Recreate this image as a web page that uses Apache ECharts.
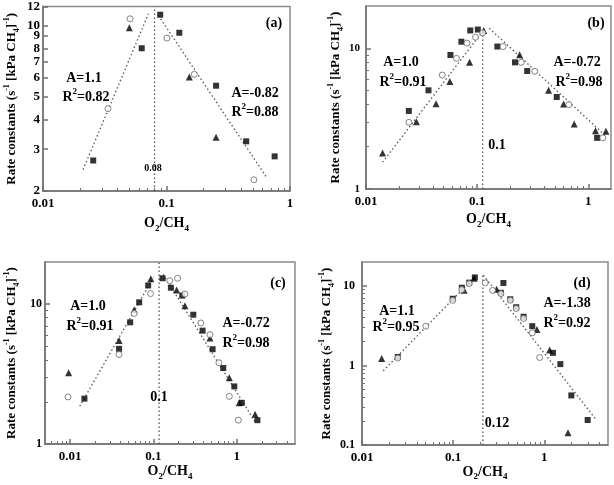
<!DOCTYPE html>
<html><head><meta charset="utf-8">
<script src="https://cdn.jsdelivr.net/npm/echarts@6/dist/echarts.min.js"></script>
<style>html,body{margin:0;padding:0;background:#fff}#c{width:614px;height:485px}</style>
</head><body><div id="c"></div>
<script>
// ---------- DATA (O2/CH4 ratio, rate constant) ----------
// Panel (a)
const aSquares   = [[0.0255,2.69],[0.063,8.0],[0.0889,11.08],[0.127,9.30],[0.252,5.56],[0.442,3.24],[0.751,2.80]];
const aTriangles = [[0.05,9.77],[0.153,6.05],[0.252,3.37]];
const aCircles   = [[0.0336,4.45],[0.0507,10.65],[0.1007,8.83],[0.168,6.21],[0.51,2.23]];
const aFitLeft   = [[0.0211,2.46],[0.0714,11.18]];
const aFitRight  = [[0.086,11.0],[0.655,2.26]];
const aPeak      = [[0.08,2],[0.08,12]];
// Panel (b)
const bSquares   = [[0.0243,3.59],[0.0365,5.03],[0.0575,8.97],[0.0721,11.15],[0.0867,13.4],[0.1014,13.6],[0.152,10.3],[0.219,7.95],[0.282,6.90],[0.52,4.51],[1.20,2.31]];
const bTriangles = [[0.0141,1.80],[0.0284,3.01],[0.0427,4.04],[0.0568,5.80],[0.0855,7.95],[0.1146,13.4],[0.241,9.02],[0.439,5.03],[0.600,4.02],[0.746,2.90],[1.16,2.60],[1.44,2.57]];
const bCircles   = [[0.0243,2.98],[0.0485,6.46],[0.0652,8.49],[0.081,10.9],[0.0966,12.0],[0.112,12.9],[0.171,10.3],[0.249,7.95],[0.330,6.87],[0.668,3.98],[1.35,2.31]];
const bFitLeft   = [[0.0141,1.55],[0.112,13.2]];
const bFitRight  = [[0.1285,13.9],[1.445,2.37]];
const bPeak      = [[0.112,1],[0.112,13.5]];
// Panel (c)
const cSquares   = [[0.01486,2.11],[0.0387,4.79],[0.0526,7.41],[0.0675,10.3],[0.0865,13.6],[0.1285,15.3],[0.162,13.1],[0.222,11.5],[0.301,8.40],[0.389,6.46],[0.513,4.76],[0.689,3.49],[0.935,2.58],[1.15,1.97],[1.77,1.48]];
const cTriangles = [[0.00961,3.23],[0.0387,5.49],[0.0587,9.12],[0.0931,15.2],[0.190,12.6],[0.239,9.73],[0.477,5.73],[0.814,2.98],[1.07,1.97],[1.66,1.63]];
const cCircles   = [[0.00944,2.17],[0.0387,4.36],[0.0587,8.58],[0.0923,11.9],[0.157,14.7],[0.195,15.3],[0.239,11.8],[0.371,7.33],[0.477,6.05],[0.611,3.81],[0.814,2.19],[1.045,1.48]];
const cFitLeft   = [[0.01305,1.86],[0.100,15.5]];
const cFitRight  = [[0.131,16.3],[1.66,1.44]];
const cPeak      = [[0.117,1],[0.117,20]];
// Panel (d)
const dSquares   = [[0.0247,1.28],[0.099,6.9],[0.1245,9.5],[0.150,11.0],[0.173,12.8],[0.356,10.9],[0.334,8.2],[0.423,6.8],[0.492,5.4],[0.593,4.1],[0.738,3.12],[1.245,1.44],[1.50,1.04],[1.98,0.42],[2.99,0.206]];
const dTriangles = [[0.01645,1.22],[0.132,8.8],[0.170,12.5],[0.30,9.1],[0.830,2.83],[1.145,1.56],[1.82,0.143]];
const dCircles   = [[0.0247,1.24],[0.0501,3.12],[0.099,6.6],[0.1245,9.0],[0.150,10.7],[0.225,10.9],[0.271,8.8],[0.334,8.0],[0.423,6.6],[0.492,5.2],[0.593,3.9],[0.738,2.57],[0.889,1.26]];
const dFitLeft   = [[0.0171,0.857],[0.1746,13.2]];
const dFitRight  = [[0.215,13.6],[3.73,0.206]];
const dPeak      = [[0.212,0.1],[0.212,13.5]];

// ---------- TICKS ----------
const aXMajor = [0.01,0.1,1];
const aXMinor = [0.02,0.03,0.04,0.05,0.06,0.07,0.08,0.09,0.2,0.3,0.4,0.5,0.6,0.7,0.8,0.9];
const aYMajor = [2,3,4,5,6,7,8,9,10,11,12];
const aYMinor = [];
const bXMajor = [0.01,0.1,1];
const bXMinor = [0.02,0.03,0.04,0.05,0.06,0.07,0.08,0.09,0.2,0.3,0.4,0.5,0.6,0.7,0.8,0.9];
const bYMajor = [1,10];
const bYMinor = [2,3,4,5,6,7,8,9];
const cXMajor = [0.01,0.1,1];
const cXMinor = [0.006,0.007,0.008,0.009,0.02,0.03,0.04,0.05,0.06,0.07,0.08,0.09,0.2,0.3,0.4,0.5,0.6,0.7,0.8,0.9,2,3,4];
const cYMajor = [1,10];
const cYMinor = [2,3,4,5,6,7,8,9];
const dXMajor = [0.01,0.1,1];
const dXMinor = [0.02,0.03,0.04,0.05,0.06,0.07,0.08,0.09,0.2,0.3,0.4,0.5,0.6,0.7,0.8,0.9,2,3,4];
const dYMajor = [0.1,1,10];
const dYMinor = [0.2,0.3,0.4,0.5,0.6,0.7,0.8,0.9,2,3,4,5,6,7,8,9];

// ---------- BUILD ----------
const L = Math.log10;
const FONT = '"Liberation Serif","Times New Roman",serif';
const AX = '#707070';
function lbl(list){ return v => { for (const t of list) if (Math.abs(L(t)-v) < 1e-6) return String(t); return ''; }; }
function rich(size){
  return {
    b:{fontFamily:FONT,fontWeight:'bold',fontSize:size,lineHeight:size+5,verticalAlign:'middle',color:'#000'},
    sup:{fontFamily:FONT,fontWeight:'bold',fontSize:Math.round(size*0.62),lineHeight:Math.round(size*0.62)+1,verticalAlign:'top',color:'#000'},
    sub:{fontFamily:FONT,fontWeight:'bold',fontSize:Math.round(size*0.62),lineHeight:Math.round(size*0.62)+1,verticalAlign:'bottom',color:'#000'}
  };
}
const X_NAME = '{b|O}{sub|2}{b|/CH}{sub|4}';
const Y_NAME = '{b|Rate constants (s}{sup|-1}{b| [kPa CH}{sub|4}{b|]}{sup|-1}{b|)}';

const panels = [
  {box:[43,6,247,185], xr:[0.01,1], yr:[2,12], xMaj:aXMajor, xMin:aXMinor, yMaj:aYMajor, yMin:aYMinor,
   sq:aSquares, tr:aTriangles, ci:aCircles, fits:[aFitLeft,aFitRight], peak:aPeak, xGap:23, yGap:22, yLblSize:13, yMargin:3},
  {box:[366,6,245,183], xr:[0.01,1.6], yr:[1,20], xMaj:bXMajor, xMin:bXMinor, yMaj:bYMajor, yMin:bYMinor,
   sq:bSquares, tr:bTriangles, ci:bCircles, fits:[bFitLeft,bFitRight], peak:bPeak, xGap:21, yGap:17, yLblSize:11, yMargin:6},
  {box:[45,262,250,182], xr:[0.005,5], yr:[1,20], xMaj:cXMajor, xMin:cXMinor, yMaj:cYMajor, yMin:cYMinor,
   sq:cSquares, tr:cTriangles, ci:cCircles, fits:[cFitLeft,cFitRight], peak:cPeak, xGap:18, yGap:24, yLblSize:12, yMargin:3},
  {box:[362,262,246,183], xr:[0.01,5], yr:[0.1,20], xMaj:dXMajor, xMin:dXMinor, yMaj:dYMajor, yMin:dYMinor,
   sq:dSquares, tr:dTriangles, ci:dCircles, fits:[dFitLeft,dFitRight], peak:dPeak, xGap:16, yGap:26, yLblSize:12, yMargin:7}
];

const option = {animation:false, backgroundColor:'#fff', grid:[], xAxis:[], yAxis:[], series:[], graphic:[]};
const toLog = arr => arr.map(([x,y]) => [L(x), L(y)]);

panels.forEach((p,k) => {
  option.grid.push({left:p.box[0], top:p.box[1], width:p.box[2], height:p.box[3], show:true, borderColor:'#8a8a8a', borderWidth:1.5, backgroundColor:'transparent'});
  const line = {show:true, onZero:false, lineStyle:{color:AX, width:1.5}};
  const noLine = {show:false, onZero:false};
  option.xAxis.push({type:'value', gridIndex:k, position:'bottom', min:L(p.xr[0]), max:L(p.xr[1]),
    axisLine:line, splitLine:{show:false},
    axisTick:{show:true, inside:true, length:5, customValues:p.xMaj.map(L), lineStyle:{color:AX, width:1.5}},
    axisLabel:{customValues:p.xMaj.map(L), formatter:lbl(p.xMaj), showMinLabel:true, showMaxLabel:true, hideOverlap:false,
      margin:6, color:'#000', fontFamily:FONT, fontWeight:'bold', fontSize:13},
    name:X_NAME, nameLocation:'middle', nameGap:p.xGap, nameTextStyle:{rich:rich(14)}});
  option.xAxis.push({type:'value', gridIndex:k, position:'bottom', min:L(p.xr[0]), max:L(p.xr[1]),
    axisLine:noLine, splitLine:{show:false}, axisLabel:{show:false},
    axisTick:{show:p.xMin.length>0, inside:true, length:3, customValues:p.xMin.map(L), lineStyle:{color:AX, width:1}}});
  option.yAxis.push({type:'value', gridIndex:k, position:'left', min:L(p.yr[0]), max:L(p.yr[1]),
    axisLine:line, splitLine:{show:false},
    axisTick:{show:true, inside:true, length:5, customValues:p.yMaj.map(L), lineStyle:{color:AX, width:1.5}},
    axisLabel:{customValues:p.yMaj.map(L), formatter:lbl(p.yMaj), showMinLabel:true, showMaxLabel:true, hideOverlap:false,
      margin:p.yMargin, color:'#000', fontFamily:FONT, fontWeight:'bold', fontSize:p.yLblSize},
    name:Y_NAME, nameLocation:'middle', nameGap:p.yGap, nameRotate:90, nameTextStyle:{rich:rich(13)}});
  option.yAxis.push({type:'value', gridIndex:k, position:'left', min:L(p.yr[0]), max:L(p.yr[1]),
    axisLine:noLine, splitLine:{show:false}, axisLabel:{show:false},
    axisTick:{show:p.yMin.length>0, inside:true, length:3, customValues:p.yMin.map(L), lineStyle:{color:AX, width:1}}});
  const xi = 2*k, yi = 2*k;
  const dotted = {type:[1.5,2.5], color:'#555', width:1.3};
  p.fits.forEach(f => option.series.push({type:'line', xAxisIndex:xi, yAxisIndex:yi, data:toLog(f), symbol:'none', silent:true, lineStyle:dotted, z:1}));
  option.series.push({type:'line', xAxisIndex:xi, yAxisIndex:yi, data:toLog(p.peak), symbol:'none', silent:true, lineStyle:dotted, z:1});
  option.series.push({type:'scatter', xAxisIndex:xi, yAxisIndex:yi, data:toLog(p.sq), symbol:'rect', symbolSize:6, itemStyle:{color:'#000'}, z:3});
  option.series.push({type:'scatter', xAxisIndex:xi, yAxisIndex:yi, data:toLog(p.tr), symbol:'triangle', symbolSize:7, itemStyle:{color:'#000'}, z:3});
  option.series.push({type:'scatter', xAxisIndex:xi, yAxisIndex:yi, data:toLog(p.ci), symbol:'circle', symbolSize:6, itemStyle:{color:'#fff', borderColor:'#666', borderWidth:1}, z:4});
});

function ann(text, x, y, size){
  option.graphic.push({type:'text', z:10, silent:true, style:{text:text, x:x, y:y, align:'center', verticalAlign:'middle', rich:rich(size), fill:'#000'}});
}
// panel (a)
ann('{b|A=1.1}', 84, 78, 14); ann('{b|R}{sup|2}{b|=0.82}', 86, 97, 14);
ann('{b|A=-0.82}', 255, 93, 14); ann('{b|R}{sup|2}{b|=0.88}', 255, 112, 14);
ann('{b|(a)}', 274, 23, 14); ann('{b|0.08}', 153, 168, 10);
// panel (b)
ann('{b|A=1.0}', 401, 62, 14); ann('{b|R}{sup|2}{b|=0.91}', 403, 82, 14);
ann('{b|A=-0.72}', 577, 62, 14); ann('{b|R}{sup|2}{b|=0.98}', 579, 82, 14);
ann('{b|(b)}', 596, 23, 14); ann('{b|0.1}', 497, 145, 14);
// panel (c)
ann('{b|A=1.0}', 88, 306, 14); ann('{b|R}{sup|2}{b|=0.91}', 90, 326, 14);
ann('{b|A=-0.72}', 246, 323, 14); ann('{b|R}{sup|2}{b|=0.98}', 246, 343, 14);
ann('{b|(c)}', 278, 283, 14); ann('{b|0.1}', 159, 397, 14);
// panel (d)
ann('{b|A=1.1}', 397, 311, 14); ann('{b|R}{sup|2}{b|=0.95}', 396, 327, 14);
ann('{b|A=-1.38}', 567, 303, 14); ann('{b|R}{sup|2}{b|=0.92}', 567, 323, 14);
ann('{b|(d)}', 582, 283, 14); ann('{b|0.12}', 497, 423, 14);

const chart = echarts.init(document.getElementById('c'), null, {renderer:'canvas'});
chart.setOption(option);
</script>
</body></html>
